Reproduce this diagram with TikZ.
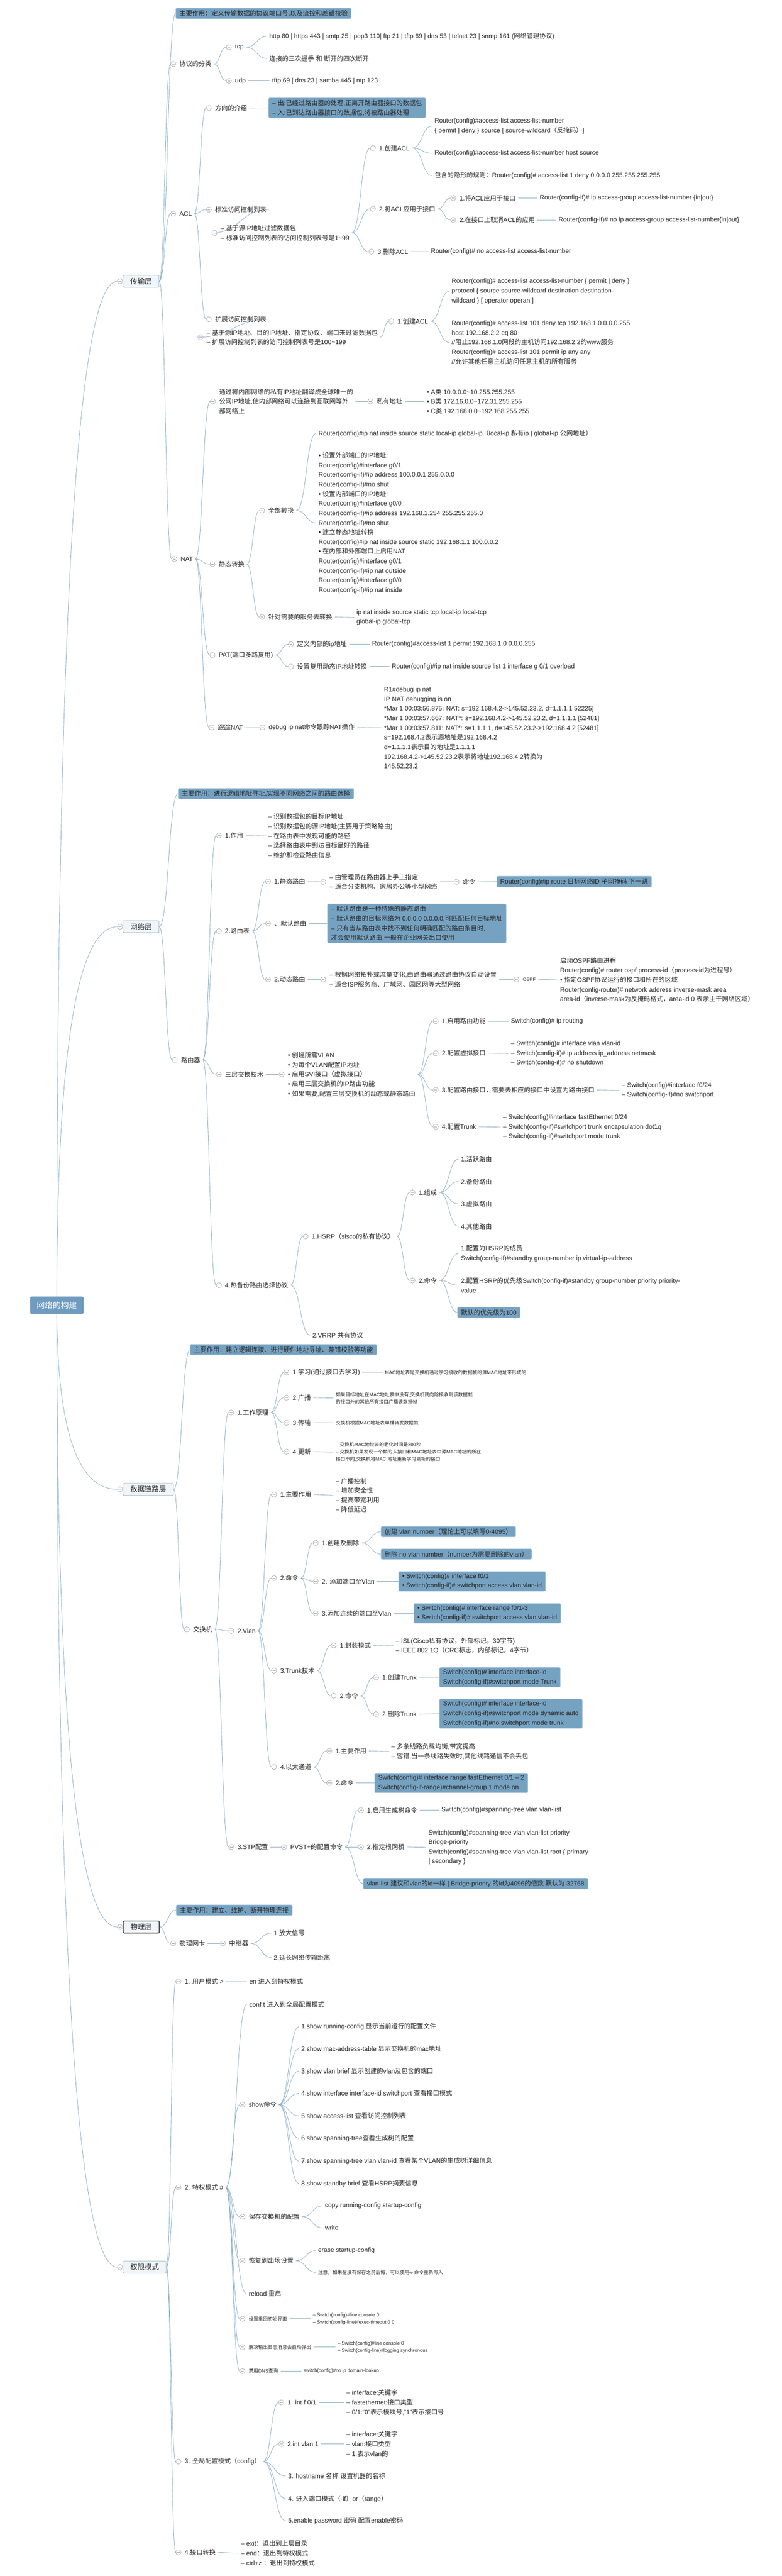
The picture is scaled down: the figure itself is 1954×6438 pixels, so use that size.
\documentclass[tikz,border=0pt]{standalone}
\usepackage{fontspec}
\setmainfont{Liberation Sans}
\newfontfamily\cjkfont{Noto Sans CJK SC}
\newfontfamily\latfont{Liberation Sans}
\XeTeXinterchartokenstate=1
\newXeTeXintercharclass\CJKcls
\newcount\cjkc
\def\setcjkrange#1#2{\cjkc=#1\relax\loop\XeTeXcharclass\cjkc=\CJKcls\relax\ifnum\cjkc<#2\advance\cjkc by 1\repeat}
\setcjkrange{"4E00}{"9FFF}
\setcjkrange{"3000}{"303F}
\setcjkrange{"FF00}{"FFEF}
\XeTeXinterchartoks 0 \CJKcls = {\cjkfont}
\XeTeXinterchartoks 4095 \CJKcls = {\cjkfont}
\XeTeXinterchartoks \CJKcls 0 = {\latfont}
\XeTeXinterchartoks \CJKcls 4095 = {\latfont}
\usetikzlibrary{calc}
\pgfdeclarelayer{bg}
\pgfsetlayers{bg,main}
\definecolor{tc}{HTML}{262626}
\definecolor{btnc}{HTML}{A0A0A0}
\definecolor{boxc}{HTML}{76A2C2}
\definecolor{boxb}{HTML}{9DBFD8}
\definecolor{mbf}{HTML}{F0F5F9}
\definecolor{mbd}{HTML}{8FB2CB}
\definecolor{conc}{HTML}{8DB1CC}
\definecolor{rootf}{HTML}{6E9BC0}
\newcommand\fnorm{\fontsize{16}{24}\selectfont}
\newcommand\fsmall{\fontsize{12}{18}\selectfont}
\newcommand\fmain{\fontsize{18}{24}\selectfont}
\newcommand\froot{\fontsize{20}{26}\selectfont}
\tikzset{
  txt/.style={font=\fnorm, text=tc, inner xsep=6pt, inner ysep=2pt, align=left, anchor=west},
  sm/.style={font=\fsmall},
  btn/.style={circle, draw=btnc, fill=white, line width=0.8pt, minimum size=13pt, inner sep=0pt,
    path picture={\draw[btnc,line width=0.9pt] ([xshift=-3.5pt]path picture bounding box.center) -- ([xshift=3.5pt]path picture bounding box.center);}},
  bx/.style={fill=boxc, draw=boxb, line width=1pt, rounded corners=3pt, font=\fnorm, text=tc, inner xsep=9pt, inner ysep=5pt, align=left, anchor=west, minimum height=26pt},
  mb/.style={fill=mbf, draw=mbd, line width=1pt, rounded corners=2pt, font=\fmain, text=tc, inner xsep=18pt, minimum height=30pt, anchor=west},
  rootbox/.style={fill=rootf, draw=rootf!85!black, line width=1pt, rounded corners=3pt, font=\froot, text=white, inner xsep=16pt, minimum height=42pt},
  con/.style={draw=conc, line width=1.1pt},
  xc/.style={to path={let \p1=(\tikztostart),\p2=(\tikztotarget) in .. controls ({(\x1+\x2)/2},\y1) and ({(\x1+\x2)/2},\y2) .. (\tikztotarget)}},
}
\newcommand\mmP[5][]{\node[btn] (#2c) at (#3,#4) {};\node[txt,#1] (#2) at ([xshift=2.5pt]#2c.east) {#5};}
\newcommand\mmL[5][]{\node[txt,#1] (#2) at (#3-6,#4) {#5};}
\newcommand\mmB[5][]{\node[bx,#1] (#2) at (#3,#4) {#5};}
\newcommand\mmE[2]{\foreach \tg in {#2}{\draw[con] (#1.east) to[xc] (\tg);}}
\newcommand\mmR[1]{\draw[con] (rootc) .. controls ($(rootc)!0.667!(rootc|-#1)$) and ($(#1)!0.667!(rootc|-#1)$) .. (#1);}
\begin{document}
\begin{tikzpicture}[x=1pt,y=-1pt]
\useasboundingbox (0,0) rectangle (1954,6438);
% ---------------- root and main nodes
\coordinate (rootc) at (142,3262);
\node[rootbox] (root) at (rootc) {网络的构建};
\node[mb] (T) at (307,703) {传输层}; \node[btn] (Tc) at (300,703) {};
\node[mb] (N) at (307,2316) {网络层}; \node[btn] (Nc) at (300,2316) {};
\node[mb] (D) at (307,3722) {数据链路层}; \node[btn] (Dc) at (300,3722) {};
\node[mb,draw=black!75,line width=2pt] (PH) at (307,4816) {物理层}; \node[btn] (PHc) at (300,4816) {};
\node[mb] (Q) at (307,5666) {权限模式}; \node[btn] (Qc) at (300,5666) {};
% ---------------- 传输层
\mmB{TH}{439}{33.5}{主要作用：定义传输数据的协议端口号,以及流控和差错校验}
\mmP{P1}{433}{160}{协议的分类}
\mmP{tcp}{572}{118}{tcp}
\mmL{L1}{673}{91}{http 80 | https 443 | smtp 25 | pop3 110| ftp 21 | tftp 69 | dns 53 | telnet 23 | snmp 161 (网络管理协议)}
\mmL{L2}{673}{146}{连接的三次握手 和 断开的四次断开}
\mmP{udp}{572}{202}{udp}
\mmL{L3}{680}{202}{tftp 69 | dns 23 | samba 445 | ntp 123}
\mmP{ACL}{433}{534}{ACL}
\mmP{FX}{522}{270}{方向的介绍}
\mmB{DIR}{671}{269.5}{– 出:已经过路由器的处理,正离开路由器接口的数据包\\– 入:已到达路由器接口的数据包,将被路由器处理}
\mmP{SACL}{522}{524}{标准访问控制列表}
\mmP{SD}{536}{582}{– 基于源IP地址过滤数据包\\– 标准访问控制列表的访问控制列表号是1\textasciitilde 99}
\mmP{A1}{932}{370}{1.创建ACL}
\mmL{L4}{1086}{315}{Router(config)\#access-list access-list-number\\\{ permit | deny \} source [ source-wildcard（反掩码）]}
\mmL{L5}{1086}{383}{Router(config)\#access-list access-list-number host source}
\mmL{L6}{1086}{439}{包含的隐形的规则：Router(config)\# access-list 1 deny 0.0.0.0 255.255.255.255}
\mmP{A2}{932}{522}{2.将ACL应用于接口}
\mmP{A21}{1133}{495}{1.将ACL应用于接口}
\mmL{L7}{1349}{495}{Router(config-if)\# ip access-group access-list-number \{in|out\}}
\mmP{A22}{1133}{550}{2.在接口上取消ACL的应用}
\mmL{L8}{1396}{550}{Router(config-if)\# no ip access-group access-list-number\{in|out\}}
\mmP{A3}{928}{629}{3.删除ACL}
\mmL{L9}{1077}{629}{Router(config)\# no access-list access-list-number}
\mmP{EACL}{522}{798}{扩展访问控制列表}
\mmP{ED}{501}{843}{– 基于源IP地址、目的IP地址、指定协议、端口来过滤数据包\\– 扩展访问控制列表的访问控制列表号是100\textasciitilde 199}
\mmP{E1}{978}{803}{1.创建ACL}
\mmL{L10}{1129}{728}{Router(config)\# access-list access-list-number \{ permit | deny \}\\protocol \{ source source-wildcard destination destination-\\wildcard \} [ operator operan ]}
\mmL{L11}{1129}{856}{Router(config)\# access-list 101 deny tcp 192.168.1.0 0.0.0.255\\host 192.168.2.2 eq 80\\//阻止192.168.1.0网段的主机访问192.168.2.2的www服务\\Router(config)\# access-list 101 permit ip any any\\//允许其他任意主机访问任意主机的所有服务}
\mmP{NAT}{436}{1397}{NAT}
\mmP{ND}{532}{1003}{通过将内部网络的私有IP地址翻译成全球唯一的\\公网IP地址,使内部网络可以连接到互联网等外\\部网络上}
\mmP{PA}{926}{1003}{私有地址}
\mmL{L12}{1067}{1003}{• A类 10.0.0.0\textasciitilde 10.255.255.255\\• B类 172.16.0.0\textasciitilde 172.31.255.255\\• C类 192.168.0.0\textasciitilde 192.168.255.255}
\mmP{ST}{531}{1410}{静态转换}
\mmP{QB}{655}{1276}{全部转换}
\mmL{L13}{796}{1083}{Router(config)\#ip nat inside source static local-ip global-ip（local-ip 私有ip | global-ip 公网地址）}
\mmL{L14}{796}{1307}{• 设置外部端口的IP地址:\\Router(config)\#interface g0/1\\Router(config-if)\#ip address 100.0.0.1 255.0.0.0\\Router(config-if)\#no shut\\• 设置内部端口的IP地址:\\Router(config)\#interface g0/0\\Router(config-if)\#ip address 192.168.1.254 255.255.255.0\\Router(config-if)\#no shut\\• 建立静态地址转换\\Router(config)\#ip nat inside source static 192.168.1.1 100.0.0.2\\• 在内部和外部端口上启用NAT\\Router(config)\#interface g0/1\\Router(config-if)\#ip nat outside\\Router(config)\#interface g0/0\\Router(config-if)\#ip nat inside}
\mmP{ZD}{655}{1542}{针对需要的服务去转换}
\mmL{L15}{891}{1543}{ip nat inside source static tcp local-ip local-tcp\\global-ip global-tcp}
\mmP{PAT}{531}{1637}{PAT(端口多路复用)}
\mmP{DY}{727}{1610}{定义内部的ip地址}
\mmL{L16}{930}{1610}{Router(config)\#access-list 1 permit 192.168.1.0 0.0.0.255}
\mmP{SF}{727}{1666}{设置复用动态IP地址转换}
\mmL{L17}{979}{1666}{Router(config)\#ip nat inside source list 1 interface g 0/1 overload}
\mmP{GZ}{529}{1818}{跟踪NAT}
\mmP{DB}{656}{1818}{debug ip nat命令跟踪NAT操作}
\mmL{L18}{960}{1819}{R1\#debug ip nat\\IP NAT debugging is on\\{}*Mar 1 00:03:56.875: NAT: s=192.168.4.2->145.52.23.2, d=1.1.1.1 52225]\\{}*Mar 1 00:03:57.667: NAT*: s=192.168.4.2->145.52.23.2, d=1.1.1.1 [52481]\\{}*Mar 1 00:03:57.811: NAT*: s=1.1.1.1, d=145.52.23.2->192.168.4.2 [52481]\\s=192.168.4.2表示源地址是192.168.4.2\\d=1.1.1.1表示目的地址是1.1.1.1\\192.168.4.2->145.52.23.2表示将地址192.168.4.2转换为\\145.52.23.2}
% ---------------- 网络层
\mmB{NH}{445}{1983.5}{主要作用：进行逻辑地址寻址,实现不同网络之间的路由选择}
\mmP{RT}{437}{2649}{路由器}
\mmP{ZY}{547}{2088}{1.作用}
\mmL{L20}{670}{2089}{– 识别数据包的目标IP地址\\– 识别数据包的源IP地址(主要用于策略路由)\\– 在路由表中发现可能的路径\\– 选择路由表中到达目标最好的路径\\– 维护和检查路由信息}
\mmP{LY}{547}{2327}{2.路由表}
\mmP{JT}{670}{2203}{1.静态路由}
\mmP{JTL}{808}{2204}{– 由管理员在路由器上手工指定\\– 适合分支机构、家居办公等小型网络}
\mmP{ML}{1141}{2204}{命令}
\mmB{RBX}{1241}{2203.5}{Router(config)\#ip route 目标网络ID 子网掩码 下一跳}
\mmP{MR}{670}{2308}{、默认路由}
\mmB{MBX}{818}{2308}{– 默认路由是一种特殊的静态路由\\– 默认路由的目标网络为 0.0.0.0 0.0.0.0,可匹配任何目标地址\\– 只有当从路由表中找不到任何明确匹配的路由条目时,\\才会使用默认路由,一般在企业网关出口使用}
\mmP{DT}{670}{2448}{2.动态路由}
\mmP{DTL}{808}{2448}{– 根据网络拓扑或流量变化,由路由器通过路由协议自动设置\\– 适合ISP服务商、广域网、园区网等大型网络}
\mmP[sm]{OS}{1291}{2448}{OSPF}
\mmL{L21}{1400}{2449}{启动OSPF路由进程\\Router(config)\# router ospf process-id（process-id为进程号）\\• 指定OSPF协议运行的接口和所在的区域\\Router(config-router)\# network address inverse-mask area\\area-id（inverse-mask为反掩码格式，area-id 0 表示主干网络区域）}
\mmP{SC}{547}{2685}{三层交换技术}
\mmP{SCL}{704}{2685}{• 创建所需VLAN\\• 为每个VLAN配置IP地址\\• 启用SVI接口（虚拟接口）\\• 启用三层交换机的IP路由功能\\• 如果需要,配置三层交换机的动态或静态路由}
\mmP{S1}{1089}{2552}{1.启用路由功能}
\mmL{L22}{1277}{2552}{Switch(config)\# ip routing}
\mmP{S2}{1089}{2632}{2.配置虚拟接口}
\mmL{L23}{1277}{2633}{– Switch(config)\# interface vlan vlan-id\\– Switch(config-if)\# ip address ip\_address netmask\\– Switch(config-if)\# no shutdown}
\mmP{S3}{1089}{2724}{3.配置路由接口，需要去相应的接口中设置为路由接口}
\mmL{L24}{1554}{2725}{– Switch(config)\#interface f0/24\\– Switch(config-if)\#no switchport}
\mmP{S4}{1089}{2816}{4.配置Trunk}
\mmL{L25}{1257}{2817}{– Switch(config)\#interface fastEthernet 0/24\\– Switch(config-if)\#switchport trunk encapsulation dot1q\\– Switch(config-if)\#switchport mode trunk}
\mmP{RB}{547}{3212}{4.热备份路由选择协议}
\mmP{HS}{764}{3090}{1.HSRP（sisco的私有协议）}
\mmP{ZC}{1031}{2980}{1.组成}
\mmL{L26}{1152}{2897}{1.活跃路由}
\mmL{L27}{1152}{2953}{2.备份路由}
\mmL{L28}{1152}{3009}{3.虚拟路由}
\mmL{L29}{1152}{3065}{4.其他路由}
\mmP{MH}{1031}{3200}{2.命令}
\mmL{L31}{1152}{3133}{1.配置为HSRP的成员\\Switch(config-if)\#standby group-number ip virtual-ip-address}
\mmL{L32}{1152}{3212}{2.配置HSRP的优先级Switch(config-if)\#standby group-number priority priority-\\value}
\mmB{DPB}{1143}{3280}{默认的优先级为100}
\mmL{L30}{781}{3337}{2.VRRP 共有协议}
% ---------------- 数据链路层
\mmB{DH}{475}{3373}{主要作用：建立逻辑连接、进行硬件地址寻址、差错校验等功能}
\mmP{JH}{467}{4072}{交换机}
\mmP{GW}{578}{3530}{1.工作原理}
\mmP{X1}{716}{3430}{1.学习(通过接口去学习)}
\mmL[sm]{L40}{962}{3430}{MAC地址表是交换机通过学习接收的数据帧的源MAC地址来形成的}
\mmP{X2}{716}{3493}{2.广播}
\mmL[sm]{L41}{839}{3494}{如果目标地址在MAC地址表中没有,交换机就向除接收到该数据帧\\的接口外的其他所有接口广播该数据帧}
\mmP{X3}{716}{3556}{3.传输}
\mmL[sm]{L42}{839}{3556}{交换机根据MAC地址表单播转发数据帧}
\mmP{X4}{716}{3628}{4.更新}
\mmL[sm]{L43}{839}{3629}{– 交换机MAC地址表的老化时间是300秒\\– 交换机如果发现一个帧的入接口和MAC地址表中源MAC地址的所在\\接口不同,交换机将MAC 地址重新学习到新的接口}
\mmP{VL}{578}{4076}{2.Vlan}
\mmP{V1}{685}{3735}{1.主要作用}
\mmL{L44}{839}{3737}{– 广播控制\\– 增加安全性\\– 提高带宽利用\\– 降低延迟}
\mmP{V2}{685}{3944}{2.命令}
\mmP{V21}{789}{3856}{1.创建及删除}
\mmB{B1}{952}{3828}{创建 vlan number（理论上可以填写0-4095）}
\mmB{B2}{952}{3884}{删除 no vlan number（number为需要删除的vlan）}
\mmP{V22}{789}{3952}{2. 添加端口至Vlan}
\mmB{B3}{996}{3952}{• Switch(config)\# interface f0/1\\• Switch(config-if)\# switchport access vlan vlan-id}
\mmP{V23}{789}{4032}{3.添加连续的端口至Vlan}
\mmB{B4}{1034}{4032}{• Switch(config)\# interface range f0/1-3\\• Switch(config-if)\# switchport access vlan vlan-id}
\mmP{V3}{685}{4175}{3.Trunk技术}
\mmP{V31}{834}{4112}{1.封装模式}
\mmL{L45}{989}{4113}{– ISL(Cisco私有协议，外部标记，30字节)\\– IEEE 802.1Q（CRC标志，内部标记，4字节）}
\mmP{V32}{834}{4238}{2.命令}
\mmP{V321}{940}{4192}{1.创建Trunk}
\mmB{B5}{1098}{4192}{Switch(config)\# interface interface-id\\Switch(config-if)\#switchport mode Trunk}
\mmP{V322}{940}{4284}{2.删除Trunk}
\mmB{B6}{1098}{4283}{Switch(config)\# interface interface-id\\Switch(config-if)\#switchport mode dynamic auto\\Switch(config-if)\#no switchport mode trunk}
\mmP{V4}{685}{4416}{4.以太通道}
\mmP{V41}{823}{4376}{1.主要作用}
\mmL{L46}{978}{4377}{– 多条线路负载均衡,带宽提高\\– 容错,当一条线路失效时,其他线路通信不会丢包}
\mmP{V42}{823}{4456}{2.命令}
\mmB{B7}{936}{4456}{Switch(config)\# interface range fastEthernet 0/1 – 2\\Switch(config-if-range)\#channel-group 1 mode on}
\mmP{STP}{578}{4616}{3.STP配置}
\mmP{PV}{710}{4616}{PVST+的配置命令}
\mmP{PA1}{902}{4524}{1.启用生成树命令}
\mmL{L47}{1103}{4524}{Switch(config)\#spanning-tree vlan vlan-list}
\mmP{PA2}{902}{4616}{2.指定根网桥}
\mmL{L48}{1071}{4617}{Switch(config)\#spanning-tree vlan vlan-list priority\\Bridge-priority\\Switch(config)\#spanning-tree vlan vlan-list root \{ primary\\| secondary \}}
\mmB{B8}{908}{4707.5}{vlan-list 建议和vlan的id一样 | Bridge-priority 的id为4096的倍数 默认为 32768}
% ---------------- 物理层
\mmB{PHH}{440}{4774}{主要作用：建立、维护、断开物理连接}
\mmP{WK}{433}{4857}{物理网卡}
\mmP{ZJ}{557}{4857}{中继器}
\mmL{L50}{684}{4831}{1.放大信号}
\mmL{L51}{684}{4892}{2.延长网络传输距离}
% ---------------- 权限模式
\mmP{U1}{446}{4952}{1. 用户模式 >}
\mmL{L60}{623}{4952}{en 进入到特权模式}
\mmP{U2}{446}{5467}{2. 特权模式 \#}
\mmL{L61}{623}{5009}{conf t 进入到全局配置模式}
\mmP{SH}{606}{5260}{show命令}
\mmL{K1}{753}{5065}{1.show running-config 显示当前运行的配置文件}
\mmL{K2}{753}{5120}{2.show mac-address-table 显示交换机的mac地址}
\mmL{K3}{753}{5176}{3.show vlan brief 显示创建的vlan及包含的端口}
\mmL{K4}{753}{5232}{4.show interface interface-id switchport 查看接口模式}
\mmL{K5}{753}{5288}{5.show access-list 查看访问控制列表}
\mmL{K6}{753}{5344}{6.show spanning-tree查看生成树的配置}
\mmL{K7}{753}{5401}{7.show spanning-tree vlan vlan-id 查看某个VLAN的生成树详细信息}
\mmL{K8}{753}{5457}{8.show standby brief 查看HSRP摘要信息}
\mmP{BC}{606}{5540}{保存交换机的配置}
\mmL{L63}{812}{5513}{copy running-config startup-config}
\mmL{L64}{812}{5568}{write}
\mmP{HF}{606}{5650}{恢复到出场设置}
\mmL{L65}{795}{5625}{erase startup-config}
\mmL[sm]{L66}{795}{5679}{注意，如果在没有保存之前后悔，可以使用w 命令重新写入}
\mmL{L62}{622}{5732}{reload 重启}
\mmP[sm]{CS}{606}{5795}{设置重回初始界面}
\mmL[sm]{L67}{782}{5795}{– Switch(config)\#line console 0\\– Switch(config-line)\#exec-timeout 0 0}
\mmP[sm]{RZ}{606}{5866}{解决输出日志消息会自动弹出}
\mmL[sm]{L68}{844}{5866}{– Switch(config)\#line console 0\\– Switch(config-line)\#logging synchronous}
\mmP[sm]{DNS}{606}{5926}{禁用DNS查询}
\mmL[sm]{L69}{759}{5926}{switch(config)\#no ip domain-lookup}
\mmP{U3}{446}{6152}{3. 全局配置模式（config）}
\mmP{G1}{703}{6004}{1. int f 0/1}
\mmL{L73}{866}{6004}{– interface:关键字\\– fastethernet:接口类型\\– 0/1:“0”表示模块号,“1”表示接口号}
\mmP{G2}{703}{6108}{2.int vlan 1}
\mmL{L74}{866}{6108}{– interface:关键字\\– vlan:接口类型\\– 1:表示vlan的}
\mmL{L70}{720}{6188}{3. hostname 名称 设置机器的名称}
\mmL{L71}{720}{6245}{4. 进入端口模式（-if）or（range）}
\mmL{L72}{720}{6300}{5.enable password 密码 配置enable密码}
\mmP{U4}{446}{6379}{4.接口转换}
\mmL{L75}{602}{6381}{– exit：退出到上层目录\\– end：退出到特权模式\\– ctrl+z ：退出到特权模式}
% ---------------- connectors
\begin{pgfonlayer}{bg}
\fill[white] (0,0) rectangle (1954,6438);
\mmR{Tc.west}\mmR{Nc.west}\mmR{Dc.west}\mmR{PHc.west}\mmR{Qc.west}
\mmE{T}{TH.west,P1c.west,ACLc.west,NATc.west}
\mmE{P1}{tcpc.west,udpc.west}
\mmE{tcp}{L1.west,L2.west}
\mmE{udp}{L3.west}
\mmE{ACL}{FXc.west,SACLc.west,EACLc.west}
\mmE{FX}{DIR.west}
\mmE{SACL}{SDc.west}
\mmE{SD}{A1c.west,A2c.west,A3c.west}
\mmE{A1}{L4.west,L5.west,L6.west}
\mmE{A2}{A21c.west,A22c.west}
\mmE{A21}{L7.west}
\mmE{A22}{L8.west}
\mmE{A3}{L9.west}
\mmE{EACL}{EDc.west}
\mmE{ED}{E1c.west}
\mmE{E1}{L10.west,L11.west}
\mmE{NAT}{NDc.west,STc.west,PATc.west,GZc.west}
\mmE{ND}{PAc.west}
\mmE{PA}{L12.west}
\mmE{ST}{QBc.west,ZDc.west}
\mmE{QB}{L13.west,L14.west}
\mmE{ZD}{L15.west}
\mmE{PAT}{DYc.west,SFc.west}
\mmE{DY}{L16.west}
\mmE{SF}{L17.west}
\mmE{GZ}{DBc.west}
\mmE{DB}{L18.west}
\mmE{N}{NH.west,RTc.west}
\mmE{RT}{ZYc.west,LYc.west,SCc.west,RBc.west}
\mmE{ZY}{L20.west}
\mmE{LY}{JTc.west,MRc.west,DTc.west}
\mmE{JT}{JTLc.west}
\mmE{JTL}{MLc.west}
\mmE{ML}{RBX.west}
\mmE{MR}{MBX.west}
\mmE{DT}{DTLc.west}
\mmE{DTL}{OSc.west}
\mmE{OS}{L21.west}
\mmE{SC}{SCLc.west}
\mmE{SCL}{S1c.west,S2c.west,S3c.west,S4c.west}
\mmE{S1}{L22.west}
\mmE{S2}{L23.west}
\mmE{S3}{L24.west}
\mmE{S4}{L25.west}
\mmE{RB}{HSc.west,L30.west}
\mmE{HS}{ZCc.west,MHc.west}
\mmE{ZC}{L26.west,L27.west,L28.west,L29.west}
\mmE{MH}{L31.west,L32.west,DPB.west}
\mmE{D}{DH.west,JHc.west}
\mmE{JH}{GWc.west,VLc.west,STPc.west}
\mmE{GW}{X1c.west,X2c.west,X3c.west,X4c.west}
\mmE{X1}{L40.west}
\mmE{X2}{L41.west}
\mmE{X3}{L42.west}
\mmE{X4}{L43.west}
\mmE{VL}{V1c.west,V2c.west,V3c.west,V4c.west}
\mmE{V1}{L44.west}
\mmE{V2}{V21c.west,V22c.west,V23c.west}
\mmE{V21}{B1.west,B2.west}
\mmE{V22}{B3.west}
\mmE{V23}{B4.west}
\mmE{V3}{V31c.west,V32c.west}
\mmE{V31}{L45.west}
\mmE{V32}{V321c.west,V322c.west}
\mmE{V321}{B5.west}
\mmE{V322}{B6.west}
\mmE{V4}{V41c.west,V42c.west}
\mmE{V41}{L46.west}
\mmE{V42}{B7.west}
\mmE{STP}{PVc.west}
\mmE{PV}{PA1c.west,PA2c.west,B8.west}
\mmE{PA1}{L47.west}
\mmE{PA2}{L48.west}
\mmE{PH}{PHH.west,WKc.west}
\mmE{WK}{ZJc.west}
\mmE{ZJ}{L50.west,L51.west}
\mmE{Q}{U1c.west,U2c.west,U3c.west,U4c.west}
\mmE{U1}{L60.west}
\mmE{U2}{L61.west,SHc.west,BCc.west,HFc.west,L62.west,CSc.west,RZc.west,DNSc.west}
\mmE{SH}{K1.west,K2.west,K3.west,K4.west,K5.west,K6.west,K7.west,K8.west}
\mmE{BC}{L63.west,L64.west}
\mmE{HF}{L65.west,L66.west}
\mmE{CS}{L67.west}
\mmE{RZ}{L68.west}
\mmE{DNS}{L69.west}
\mmE{U3}{G1c.west,G2c.west,L70.west,L71.west,L72.west}
\mmE{G1}{L73.west}
\mmE{G2}{L74.west}
\mmE{U4}{L75.west}
\end{pgfonlayer}
\end{tikzpicture}
\end{document}
